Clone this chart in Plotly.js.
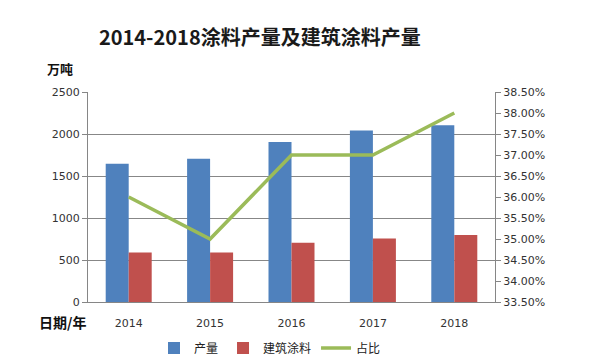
<!DOCTYPE html>
<html><head><meta charset="utf-8">
<script src="https://cdn.plot.ly/plotly-3.0.1.min.js"></script>
<style>html,body{margin:0;padding:0;background:#fff}#chart{width:600px;height:364px}</style>
</head><body><div id="chart"></div>
<script>
const years = ['2014','2015','2016','2017','2018'];
const output = [1645, 1705, 1905, 2043, 2105];
const archOutput = [590, 590, 706, 757, 798];
const share = [36.0, 35.0, 37.0, 37.0, 38.0];

const cjk = '"Noto Sans CJK SC", sans-serif';
const num = '"DejaVu Sans", Verdana, sans-serif';

const data = [
  {type:'bar', x:years, y:output, name:'产量', marker:{color:'#4F81BD'}},
  {type:'bar', x:years, y:archOutput, name:'建筑涂料', marker:{color:'#C0504D'}},
  {type:'scatter', mode:'lines', x:years, y:share, name:'占比', yaxis:'y2',
   line:{color:'#9BBB59', width:3.5}}
];

const layout = {
  width:600, height:364,
  margin:{l:88, r:105, t:92, b:62, autoexpand:false},
  paper_bgcolor:'#fff', plot_bgcolor:'#fff',
  showlegend:true,
  title:{text:'<b>2014-2018涂料产量及建筑涂料产量</b>', x:0.433, xanchor:'center', y:0.896, yanchor:'middle',
    font:{family:cjk, size:20, color:'#1a1a1a'}},
  barmode:'group', bargap:0.435, bargroupgap:0,
  xaxis:{type:'category', showgrid:false, showline:true, linecolor:'#868686', linewidth:1,
    ticks:'', tickfont:{family:num, size:11, color:'#333'}, ticklabelstandoff:11, fixedrange:true, automargin:false},
  yaxis:{range:[0,2500], dtick:500, showgrid:true, gridcolor:'#878787', gridwidth:1,
    showline:true, linecolor:'#868686', ticks:'outside', ticklen:5, tickcolor:'#868686',
    tickfont:{family:num, size:11, color:'#333'}, zeroline:false, automargin:false},
  yaxis2:{overlaying:'y', side:'right', range:[33.5,38.5], dtick:0.5, tickformat:'.2f', ticksuffix:'%',
    showgrid:false, showline:true, linecolor:'#868686', ticks:'outside', ticklen:5, tickcolor:'#868686',
    tickfont:{family:num, size:11, color:'#333'}, zeroline:false, automargin:false},
  legend:{orientation:'h', xref:'container', yref:'container', x:0.45, xanchor:'center', y:1-348/364, yanchor:'middle',
    font:{family:cjk, size:12, color:'#222'}, itemwidth:30, tracegroupgap:0},
  annotations:[
    {text:'<b>万吨</b>', xref:'paper', yref:'paper', x:(60-88)/407, y:1+(92-69)/210, xanchor:'center', yanchor:'middle',
     showarrow:false, font:{family:cjk, size:13, color:'#111'}},
    {text:'<b>日期/年</b>', xref:'paper', yref:'paper', x:(62-88)/407, y:-(322-302)/210, xanchor:'center', yanchor:'middle',
     showarrow:false, font:{family:cjk, size:14, color:'#111'}}
  ]
};

Plotly.newPlot('chart', data, layout, {displayModeBar:false, staticPlot:true});
</script></body></html>
